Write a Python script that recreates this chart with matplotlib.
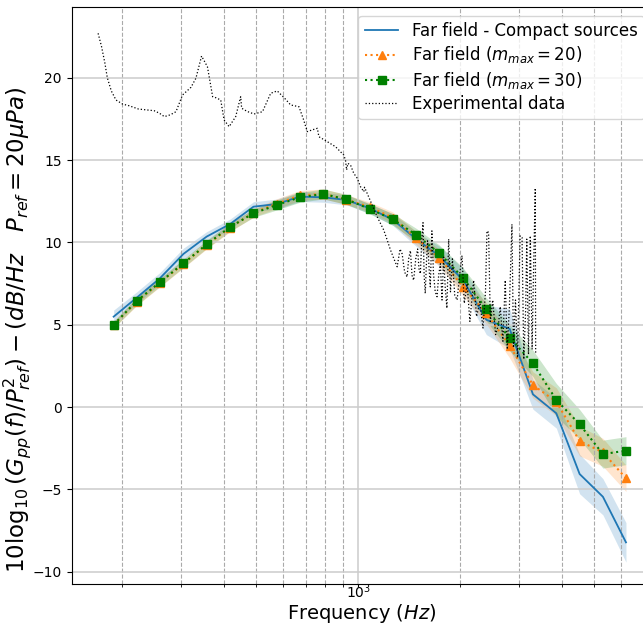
import numpy as np
import matplotlib.pyplot as plt

# Far field model frequencies (Hz) and levels (dB/Hz)
freq = [189, 221, 259, 304, 356, 418, 490, 574, 672, 788, 922, 1082, 1266,
        1486, 1738, 2042, 2394, 2806, 3289, 3856, 4520, 5297, 6198]

compact = [5.49, 6.64, 7.82, 9.3, 10.35, 11.12, 12.17, 12.33, 12.78, 12.74,
           12.58, 12.07, 11.38, 10.2, 9.17, 7.72, 5.3, 4.75, 0.77, -0.38,
           -4.07, -5.45, -8.22]
compact_err = [0.4, 0.35, 0.35, 0.35, 0.3, 0.3, 0.3, 0.3, 0.3, 0.3, 0.3, 0.3,
               0.35, 0.45, 0.6, 0.7, 0.9, 1.2, 0.9, 0.9, 1.2, 1.1, 1.2]

m20 = [5.0, 6.4, 7.55, 8.7, 9.85, 10.9, 11.8, 12.35, 12.85, 12.95, 12.6,
       12.15, 11.5, 10.25, 9.07, 7.31, 5.69, 3.73, 1.34, 0.32, -2.07, -2.75,
       -4.33]
m20_err = [0.2, 0.25, 0.25, 0.25, 0.25, 0.25, 0.25, 0.3, 0.3, 0.3, 0.3, 0.3,
           0.35, 0.4, 0.5, 0.55, 0.65, 0.75, 0.8, 0.85, 0.9, 0.85, 0.8]

m30 = [5.0, 6.44, 7.58, 8.73, 9.88, 10.94, 11.77, 12.27, 12.74, 12.94, 12.62,
       12.03, 11.4, 10.45, 9.34, 7.86, 5.93, 4.21, 2.65, 0.43, -1.05, -2.86,
       -2.65]
m30_err = [0.2, 0.25, 0.25, 0.25, 0.25, 0.25, 0.25, 0.3, 0.3, 0.3, 0.3, 0.3,
           0.35, 0.4, 0.5, 0.6, 0.7, 0.8, 0.8, 1.0, 0.9, 0.85, 0.85]

# Experimental spectrum
exp_freq = [170, 174, 178, 181, 186, 192, 201, 210, 224, 236, 249, 258, 267,
            278, 289, 302, 320, 331, 344, 358, 371, 379, 392, 401, 415, 434,
            449, 452, 470, 492, 521, 551, 576, 603, 631, 668, 688, 707, 735,
            757, 765, 810, 857, 906, 917, 924, 932, 949, 970, 993, 1016, 1039,
            1044, 1063, 1100, 1138, 1190, 1218, 1246, 1274, 1304, 1330, 1349,
            1372, 1395, 1410, 1427, 1443, 1459, 1480, 1499, 1513, 1527, 1541,
            1555, 1567, 1579, 1592, 1604, 1620, 1634, 1652, 1670, 1690, 1711,
            1730, 1750, 1770, 1790, 1810, 1830, 1852, 1875, 1900, 1930, 1962,
            1995, 2028, 2060, 2100, 2140, 2195, 2240, 2290, 2340, 2380, 2404,
            2431, 2460, 2500, 2550, 2600, 2631, 2680, 2723, 2760, 2800, 2850,
            2880, 2920, 2960, 3013, 3053, 3090, 3130, 3153, 3190, 3230, 3270,
            3300, 3341, 3350]
exp_val = [22.7, 21.9, 20.9, 20.0, 19.2, 18.65, 18.4, 18.3, 18.1, 18.05, 18.0,
           17.85, 17.64, 17.75, 17.94, 18.95, 19.42, 19.97, 21.32, 20.67,
           18.85, 18.79, 18.65, 17.44, 17.03, 17.64, 18.85, 18.15, 17.95, 17.8,
           17.94, 19.06, 19.2, 18.8, 18.35, 18.24, 17.5, 16.73, 16.85, 16.93,
           16.42, 16.12, 15.81, 15.31, 15.0, 14.4, 14.8, 14.7, 14.2, 13.9,
           13.38, 13.08, 13.35, 12.98, 12.27, 11.56, 10.75, 10.15, 9.54, 9.03,
           8.52, 9.6, 9.3, 8.2, 7.9, 9.0, 9.5, 8.0, 7.7, 9.0, 9.6, 8.4, 8.1,
           10.0, 11.2, 8.0, 6.9, 8.8, 10.1, 8.5, 7.3, 10.7, 8.1, 7.0, 6.7, 8.0,
           8.7, 6.5, 9.1, 7.2, 6.0, 10.2, 7.0, 9.0, 6.8, 6.5, 8.0, 9.2, 6.3,
           7.5, 5.2, 7.7, 5.5, 6.4, 4.8, 7.0, 10.7, 10.6, 5.2, 6.5, 4.4, 5.0,
           6.1, 4.0, 7.7, 3.5, 6.0, 11.1, 3.6, 6.5, 3.0, 10.4, 10.3, 2.9, 6.0,
           10.2, 3.2, 10.4, 3.5, 8.0, 13.3, 3.3]

fig = plt.figure(figsize=(6.43, 6.25), dpi=100)
ax = fig.add_axes([0.1115, 0.0661, 0.9031, 0.9222])

f = np.array(freq)
for y, err, col in [(compact, compact_err, 'tab:blue'),
                    (m20, m20_err, 'tab:orange'),
                    (m30, m30_err, 'green')]:
    y = np.array(y)
    err = np.array(err)
    ax.fill_between(f, y - err, y + err, color=col, alpha=0.2, linewidth=0)

ax.plot(freq, compact, '-', color='tab:blue', lw=1.3,
        label='Far field - Compact sources')
ax.plot(freq, m20, ':', color='tab:orange', lw=1.5, marker='^', ms=6,
        label=r'Far field ($m_{max}=20$)')
ax.plot(freq, m30, ':', color='green', lw=1.5, marker='s', ms=6,
        label=r'Far field ($m_{max}=30$)')
ax.plot(exp_freq, exp_val, ':', color='k', lw=0.9, label='Experimental data')

ax.set_xscale('log')
ax.set_xlim(10**2.1523, 10**3.8704)
ax.set_ylim(-10.73, 24.28)
ax.set_yticks([-10, -5, 0, 5, 10, 15, 20])

ax.grid(True, which='major', color='#cccccc', linestyle='-', linewidth=1.1)
ax.grid(True, which='minor', axis='x', color='#aaaaaa', linestyle='--',
        linewidth=0.8)
ax.tick_params(labelsize=10)
ax.tick_params(axis='x', which='both', length=2, pad=-3)

ax.set_xlabel(r'Frequency $(Hz)$', fontsize=14, labelpad=0.5)
ax.set_ylabel(r'$10\log_{10}(G_{pp}(f)/P_{ref}^2) - (dB/Hz\quad P_{ref}=20\mu Pa)$',
              fontsize=16.5, labelpad=0)
ax.yaxis.label.set_y(0.44)

ax.legend(loc='upper right', fontsize=12, labelspacing=0.25)

plt.savefig('out.png', dpi=100)
